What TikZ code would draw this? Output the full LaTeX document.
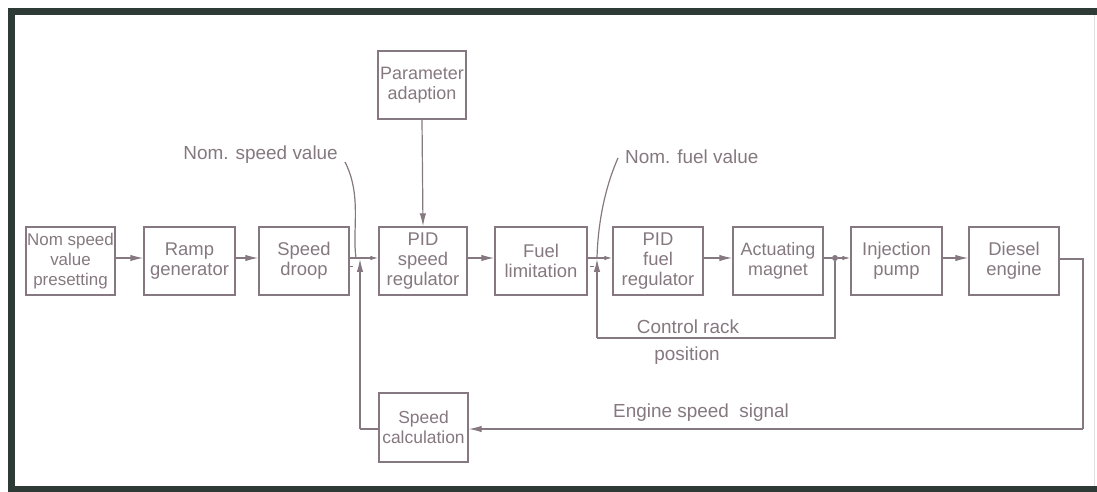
\documentclass[tikz,border=0pt]{standalone}
\usepackage{fontspec}
\setmainfont{Liberation Sans}
\usetikzlibrary{arrows.meta}
\definecolor{ln}{HTML}{857880}
\definecolor{tx}{HTML}{85787F}
\definecolor{frame}{HTML}{2E3A36}
\begin{document}
\begin{tikzpicture}[x=1bp,y=-1bp,
  blk/.style={draw=ln,line width=1.4bp,minimum width=90bp,minimum height=68bp,inner sep=0pt,align=center,text=tx,font=\fontsize{18.5}{20.5}\selectfont},
  lbl/.style={text=tx,font=\fontsize{19}{21}\selectfont,inner sep=0pt},
  wire/.style={draw=ln,line width=1.2bp},
  big/.style={wire,-{Latex[length=13bp,width=6.5bp]}},
  small/.style={wire,-{Latex[length=8bp,width=4.5bp]}}]
\useasboundingbox (0,0) rectangle (1097,492);
% frame
\fill[frame] (8,8) rectangle (1097,15);
\fill[frame] (8,8) rectangle (15,492);
\fill[frame] (8,486) rectangle (1097,492);
\draw[line width=1bp,black!12] (1094,15) -- (1094,486);
% blocks
\node[blk,minimum width=89bp,font=\fontsize{17}{20}\selectfont] (nsv) at (70.5,261) {Nom speed\\value\\presetting};
\node[blk,minimum width=91bp] (ramp) at (189.5,261) {Ramp\\generator};
\node[blk] (droop) at (304,261) {Speed\\droop};
\node[blk,minimum width=88bp] (pids) at (423,261) {PID\\speed\\regulator};
\node[blk,minimum width=92bp] (fuel) at (541,261) {Fuel\\limitation};
\node[blk] (pidf) at (658,261) {PID\\fuel\\regulator};
\node[blk,font=\fontsize{18}{20.5}\selectfont] (act) at (778,261) {Actuating\\magnet};
\node[blk,minimum width=91bp] (inj) at (896.5,261) {Injection\\pump};
\node[blk] (dies) at (1014,261) {Diesel\\engine};
\node[blk,minimum width=88bp,font=\fontsize{18}{20.5}\selectfont] (param) at (422,85) {Parameter\\adaption};
\node[blk,minimum width=89bp,minimum height=69bp,font=\fontsize{17.5}{20.5}\selectfont] (scalc) at (423.5,427.5) {Speed\\calculation};
% signal level and junctions
\coordinate (s) at (0,258);
\coordinate (j1) at (356,258);
\coordinate (j2) at (597,258);
\node[circle,fill=ln,inner sep=0pt,minimum size=6bp] (dot) at (835,258) {};
\coordinate (fb1) at (360,429);
\coordinate (fb2) at (597,338);
\coordinate (dr) at (1083,259);
\coordinate (db) at (1083,429);
% forward arrows
\draw[big] (nsv.east |- s) -- (ramp.west |- s);
\draw[big] (ramp.east |- s) -- (droop.west |- s);
\draw[wire] (droop.east |- s) -- (j1);
\draw[small] (j1) -- (pids.west |- s);
\draw[big] (pids.east |- s) -- (fuel.west |- s);
\draw[wire] (fuel.east |- s) -- (j2);
\draw[small] (j2) -- (pidf.west |- s);
\draw[big] (pidf.east |- s) -- (act.west |- s);
\draw[wire] (act.east |- s) -- (dot);
\draw[small] (dot) -- (inj.west |- s);
\draw[big] (inj.east |- s) -- (dies.west |- s);
\draw[big] (param.south) -- (pids.north);
% feedback loops
\draw[wire] (dies.east |- dr) -- (dr) -- (db);
\draw[big] (db) -- (scalc.east |- db);
\draw[wire] (scalc.west |- fb1) -- (fb1);
\draw[big] (fb1) -- (360,259);
\draw[wire] (dot) -- (835,338) -- (fb2);
\draw[big] (fb2) -- (597,259);
% minus signs
\draw[wire,line width=0.8bp] (349,266) -- (353,266);
\draw[wire,line width=0.8bp] (590,266) -- (594,266);
% labels and leaders
\node[lbl,anchor=east] (lns) at (338,155) {Nom. speed value};
\draw[wire] (345,162) .. controls (362,195) and (352,230) .. (j1);
\node[lbl,anchor=west] (lnf) at (625,157) {Nom. fuel value};
\draw[wire] (618,158) .. controls (606,185) and (598,220) .. (j2);
\node[lbl] (lcr) at (688,327) {Control rack};
\node[lbl] (lpos) at (687,356) {position};
\node[lbl] (les) at (701,413) {Engine speed\ \ signal};
\end{tikzpicture}
\end{document}
